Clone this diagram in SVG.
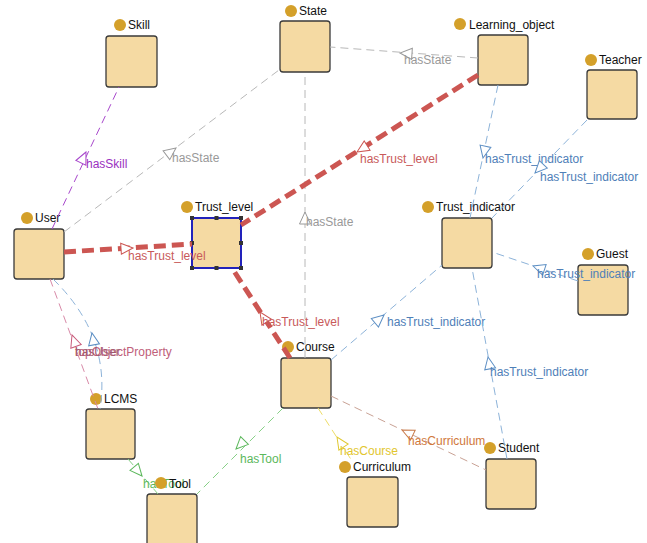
<svg xmlns="http://www.w3.org/2000/svg" xmlns:xlink="http://www.w3.org/1999/xlink" width="647" height="543" viewBox="0 0 647 543">
<style>
.box{fill:#f5daa3;stroke:#3a3a3a;stroke-width:1.3}
.dot{fill:#d4a02a}
.nl{font-family:"Liberation Sans",Arial,sans-serif;font-size:12px;fill:#111}
.el{font-family:"Liberation Sans",Arial,sans-serif;font-size:12px}
.e{fill:none;stroke-width:1;stroke-dasharray:8 5}
.thick{fill:none;stroke:#cc5652;stroke-width:5;stroke-dasharray:12 6}
.h{fill:#333}
</style>
<defs>
<polygon id="arr" points="0,0 -12,-5.5 -12,5.5" fill="#fff" stroke-width="1"/>
</defs>
<rect width="647" height="543" fill="#fff"/>
<g id="nodes">
<g id="Skill"><rect class="box" x="106" y="36" width="51" height="51" rx="3"/><circle class="dot" cx="120" cy="25" r="6"/><text class="nl" x="128" y="29">Skill</text></g>
<g id="State"><rect class="box" x="280" y="21" width="50" height="51" rx="3"/><circle class="dot" cx="291" cy="11" r="6"/><text class="nl" x="299" y="15">State</text></g>
<g id="Learning_object"><rect class="box" x="478" y="35" width="50" height="50" rx="3"/><circle class="dot" cx="460" cy="24" r="6"/><text class="nl" x="469" y="29">Learning_object</text></g>
<g id="Teacher"><rect class="box" x="587" y="70" width="50" height="49" rx="3"/><circle class="dot" cx="591" cy="60" r="6"/><text class="nl" x="599" y="64">Teacher</text></g>
<g id="User"><rect class="box" x="14" y="229" width="50" height="50" rx="3"/><circle class="dot" cx="27" cy="218" r="6"/><text class="nl" x="35" y="222">User</text></g>
<g id="Trust_level"><rect x="192" y="218" width="49" height="50" fill="#f5daa3" stroke="#2222bb" stroke-width="2"/>
<rect class="h" x="190" y="216" width="4" height="4"/><rect class="h" x="214.5" y="216" width="4" height="4"/><rect class="h" x="239" y="216" width="4" height="4"/><rect class="h" x="239" y="241" width="4" height="4"/><rect class="h" x="239" y="266" width="4" height="4"/><rect class="h" x="214.5" y="266" width="4" height="4"/><rect class="h" x="190" y="266" width="4" height="4"/><rect class="h" x="190" y="241" width="4" height="4"/>
<circle class="dot" cx="187" cy="207" r="6"/><text class="nl" x="195" y="211">Trust_level</text></g>
<g id="Trust_indicator"><rect class="box" x="442" y="218" width="50" height="50" rx="3"/><circle class="dot" cx="428" cy="207" r="6"/><text class="nl" x="436" y="211">Trust_indicator</text></g>
<g id="Guest"><rect class="box" x="578" y="265" width="50" height="50" rx="3"/><circle class="dot" cx="588" cy="254" r="6"/><text class="nl" x="596" y="258">Guest</text></g>
<g id="Course"><rect class="box" x="281" y="358" width="50" height="50" rx="3"/><circle class="dot" cx="288" cy="347" r="6"/><text class="nl" x="296" y="351">Course</text></g>
<g id="LCMS"><rect class="box" x="86" y="409" width="49" height="50" rx="3"/><circle class="dot" cx="96" cy="399" r="6"/><text class="nl" x="104" y="403">LCMS</text></g>
<g id="Curriculum"><rect class="box" x="347" y="477" width="51" height="50" rx="3"/><circle class="dot" cx="345" cy="467" r="6"/><text class="nl" x="353" y="471">Curriculum</text></g>
<g id="Student"><rect class="box" x="486" y="459" width="50" height="50" rx="3"/><circle class="dot" cx="490" cy="448" r="6"/><text class="nl" x="498" y="452">Student</text></g>
<g id="Tool"><rect class="box" x="147" y="494" width="50" height="55" rx="3"/></g>
</g>
<g id="connectors">
<!-- hasSkill -->
<line class="e" stroke="#a848cc" x1="52" y1="229" x2="119" y2="87"/>
<use xlink:href="#arr" stroke="#a848cc" transform="translate(86,152) rotate(-64.7)"/>
<text class="el" fill="#9a30c0" x="86" y="168">hasSkill</text>
<!-- hasState -->
<line class="e" stroke="#b8b8b8" x1="64" y1="232" x2="279" y2="70"/>
<use xlink:href="#arr" stroke="#999" transform="translate(176,148) rotate(-37)"/>
<text class="el" fill="#999" x="172" y="162">hasState</text>
<line class="e" stroke="#b8b8b8" x1="478" y1="58" x2="330" y2="47"/>
<use xlink:href="#arr" stroke="#999" transform="translate(400,53) rotate(184)"/>
<text class="el" fill="#999" x="404" y="64">hasState</text>
<line class="e" stroke="#b8b8b8" x1="305" y1="358" x2="305" y2="72"/>
<use xlink:href="#arr" stroke="#999" transform="translate(305,212) rotate(-90)"/>
<text class="el" fill="#999" x="306" y="226">hasState</text>
<!-- hasTrust_level -->
<line class="thick" x1="64" y1="252" x2="192" y2="244"/>
<use xlink:href="#arr" stroke="#cc5652" transform="translate(133,248) rotate(-3.6)"/>
<text class="el" fill="#c85a5a" x="128" y="260">hasTrust_level</text>
<line class="thick" x1="478" y1="75" x2="241" y2="225"/>
<use xlink:href="#arr" stroke="#cc5652" transform="translate(357,152) rotate(147.7)"/>
<text class="el" fill="#c85a5a" x="360" y="163">hasTrust_level</text>
<line class="thick" x1="290" y1="358" x2="232" y2="268"/>
<use xlink:href="#arr" stroke="#cc5652" transform="translate(260,312) rotate(-122.8)"/>
<text class="el" fill="#c85a5a" x="262" y="326">hasTrust_level</text>
<!-- hasTrust_indicator -->
<line class="e" stroke="#8db3d9" x1="498" y1="85" x2="470" y2="218"/>
<use xlink:href="#arr" stroke="#5d8fc4" transform="translate(483,158) rotate(101.9)"/>
<text class="el" fill="#4f80b8" x="485" y="163">hasTrust_indicator</text>
<line class="e" stroke="#8db3d9" x1="587" y1="120" x2="492" y2="218"/>
<use xlink:href="#arr" stroke="#5d8fc4" transform="translate(535,173) rotate(134)"/>
<text class="el" fill="#4f80b8" x="540" y="181">hasTrust_indicator</text>
<line class="e" stroke="#8db3d9" x1="578" y1="281" x2="492" y2="252"/>
<use xlink:href="#arr" stroke="#5d8fc4" transform="translate(533,266) rotate(198.6)"/>
<text class="el" fill="#4f80b8" x="537" y="278">hasTrust_indicator</text>
<line class="e" stroke="#8db3d9" x1="331" y1="360" x2="442" y2="265"/>
<use xlink:href="#arr" stroke="#5d8fc4" transform="translate(384,315) rotate(-40.6)"/>
<text class="el" fill="#4f80b8" x="387" y="326">hasTrust_indicator</text>
<line class="e" stroke="#8db3d9" x1="507" y1="459" x2="472" y2="268"/>
<use xlink:href="#arr" stroke="#5d8fc4" transform="translate(488,357) rotate(-100.4)"/>
<text class="el" fill="#4f80b8" x="490" y="376">hasTrust_indicator</text>
<!-- hasUser / topObjectProperty -->
<line class="e" stroke="#d88aa8" x1="50" y1="279" x2="98" y2="409"/>
<use xlink:href="#arr" stroke="#c85a7a" transform="translate(72,335) rotate(-109.5)"/>
<path class="e" stroke="#8db3d9" d="M53,279 Q111.5,336 100,409"/>
<use xlink:href="#arr" stroke="#5d8fc4" transform="translate(92,333) rotate(-100)"/>
<text class="el" fill="#c0607a" x="75" y="356">topObjectProperty</text>
<text class="el" fill="#a05a70" x="75" y="356">hasUser</text>
<!-- hasTool -->
<line class="e" stroke="#86d086" x1="128" y1="459" x2="158" y2="494"/>
<use xlink:href="#arr" stroke="#5cb85c" transform="translate(142,476) rotate(49.4)"/>
<text class="el" fill="#5cb85c" x="143" y="488">hasTool</text>
<line class="e" stroke="#86d086" x1="283" y1="408" x2="197" y2="494"/>
<use xlink:href="#arr" stroke="#5cb85c" transform="translate(236,449) rotate(135)"/>
<text class="el" fill="#5cb85c" x="240" y="463">hasTool</text>
<!-- hasCourse -->
<line class="e" stroke="#eedd66" x1="318" y1="408" x2="352" y2="461"/>
<use xlink:href="#arr" stroke="#e0c830" transform="translate(337,437) rotate(-122.8)"/>
<text class="el" fill="#e2c62e" x="340" y="455">hasCourse</text>
<!-- hasCurriculum -->
<line class="e" stroke="#c9a295" x1="331" y1="396" x2="486" y2="470"/>
<use xlink:href="#arr" stroke="#c87a4a" transform="translate(402,430) rotate(-154.5)"/>
<text class="el" fill="#d0783c" x="408" y="445">hasCurriculum</text>
</g>
<g id="Tool-label"><circle class="dot" cx="161" cy="483" r="6"/><text class="nl" x="169" y="488">Tool</text></g>
</svg>
